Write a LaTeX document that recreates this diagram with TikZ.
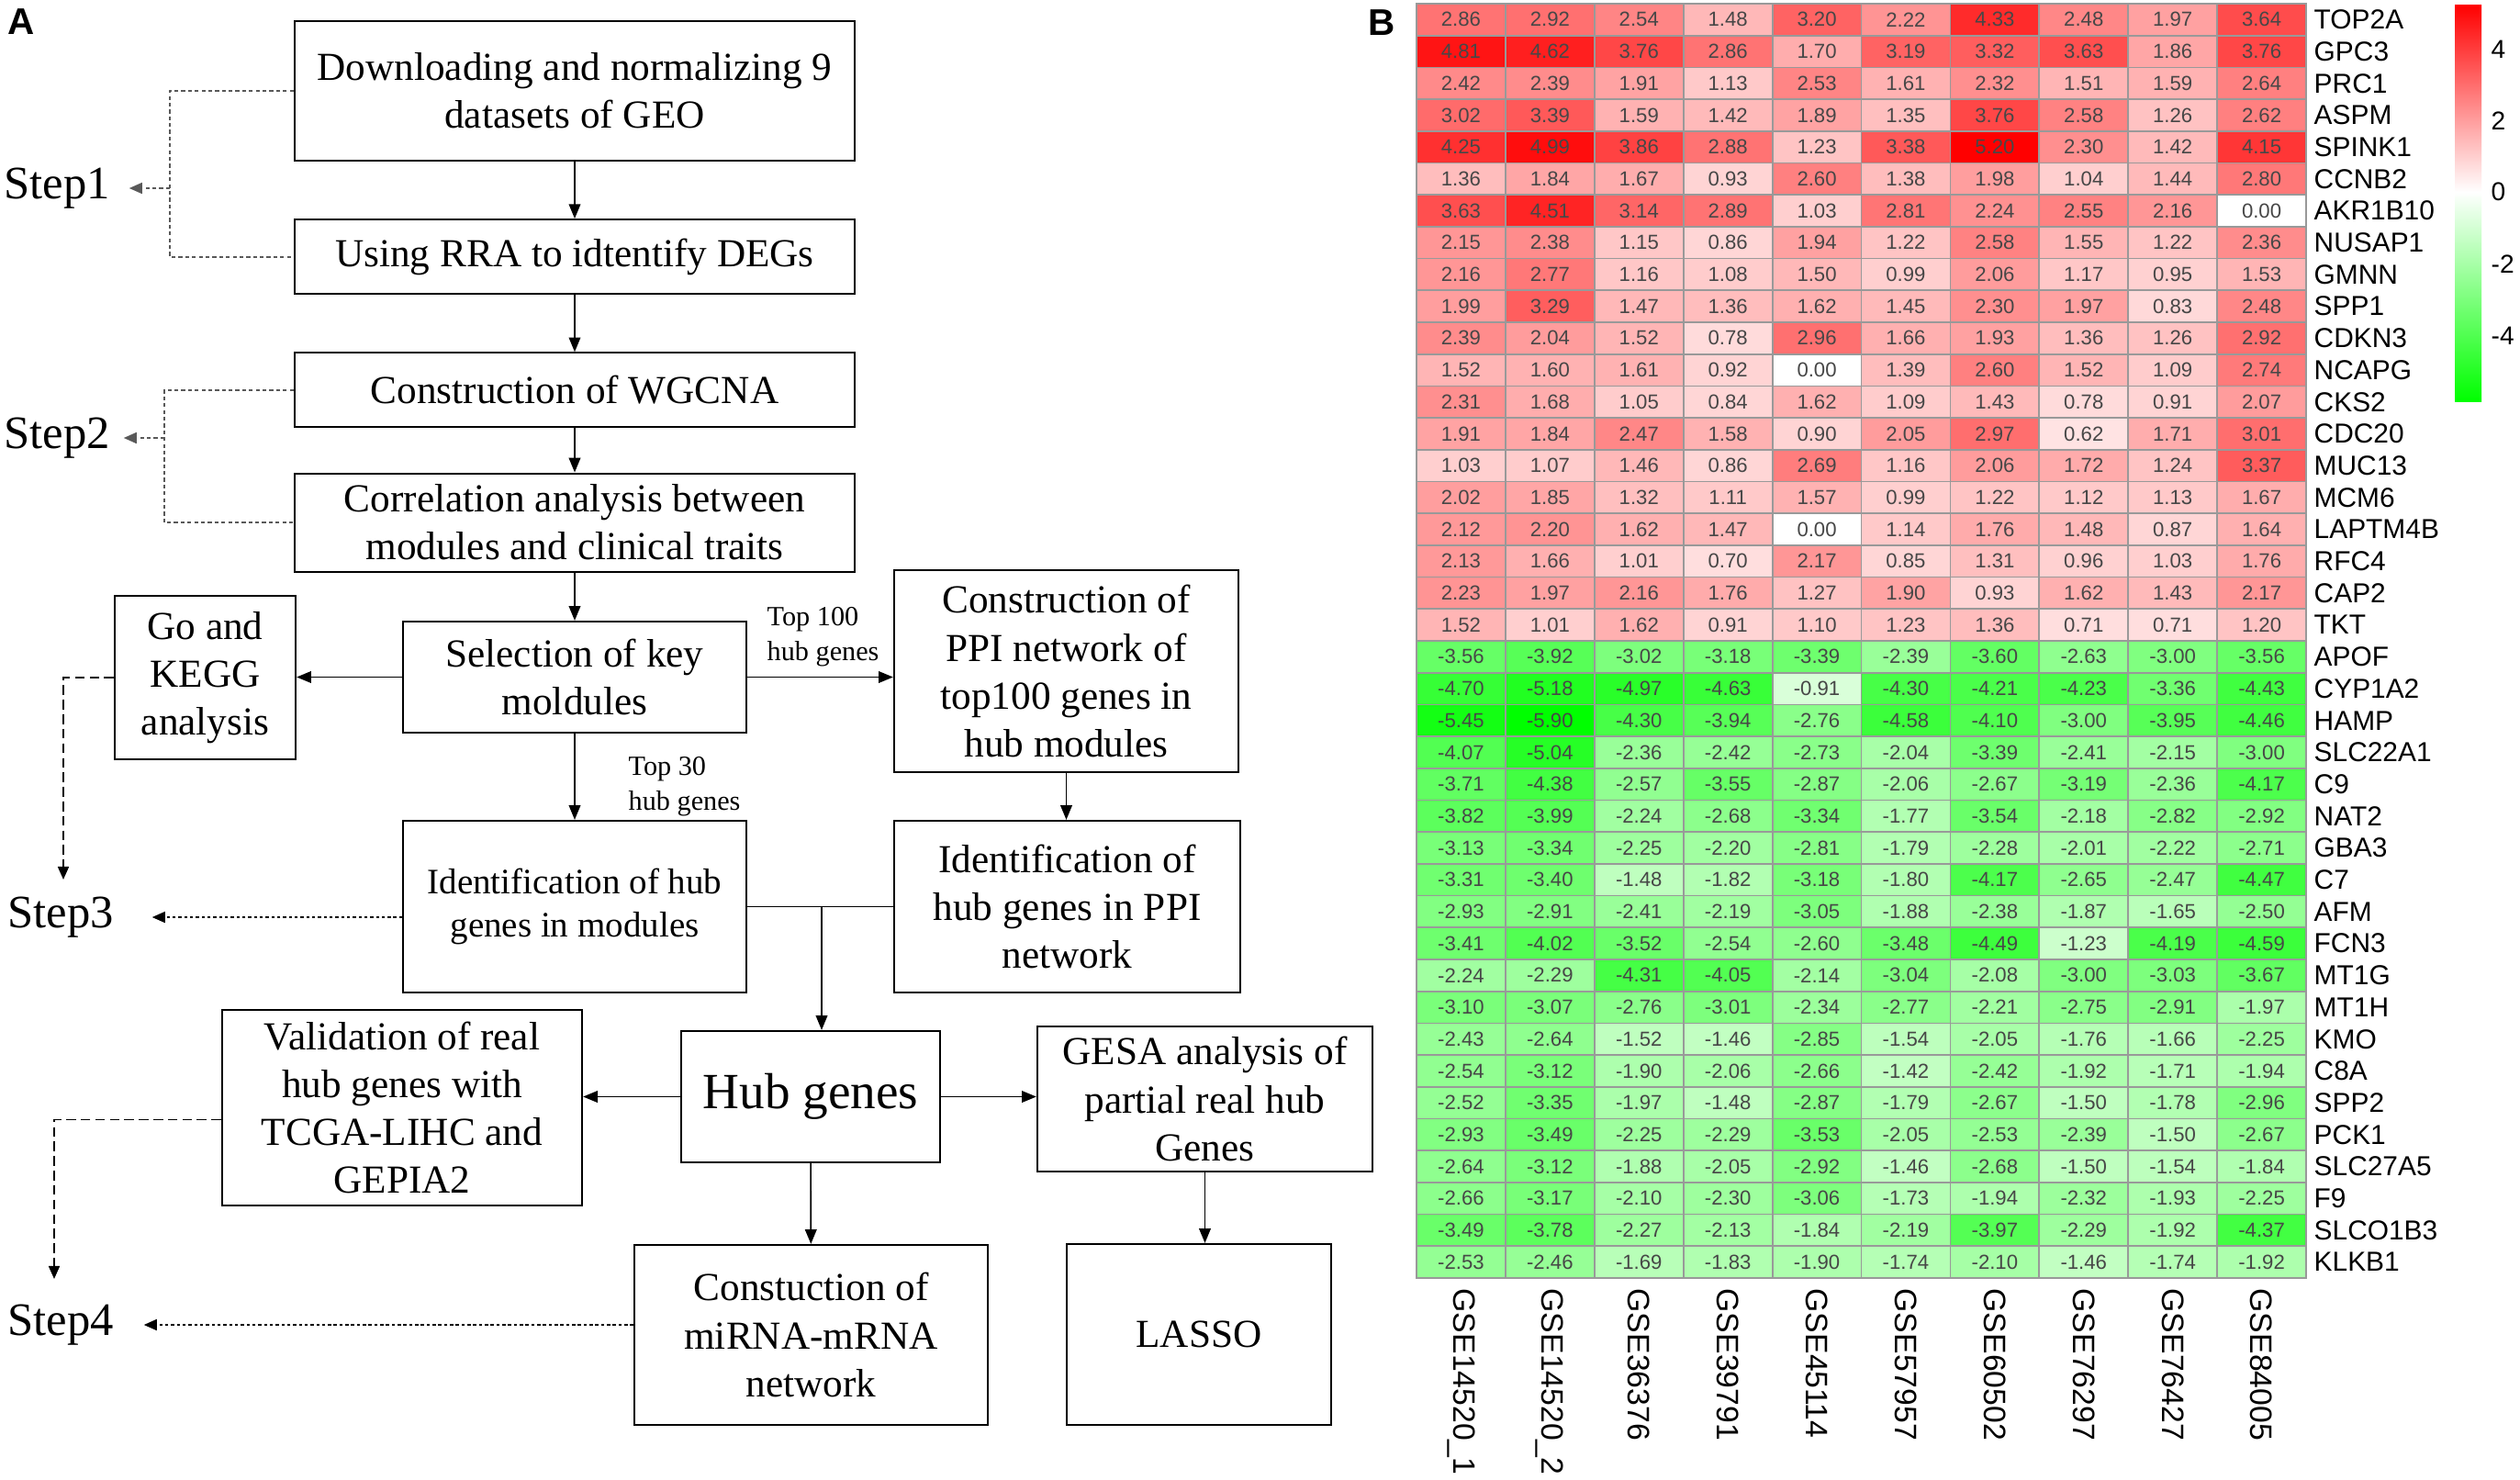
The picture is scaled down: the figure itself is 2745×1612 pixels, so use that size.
\documentclass[tikz,border=0pt]{standalone}
\usepackage{fontspec}
\setmainfont{Liberation Serif}
\newfontfamily\heatfont{Liberation Sans}
\usetikzlibrary{positioning,calc,arrows.meta}
\tikzset{main node/.style={rectangle,draw,line width=0.6pt,align=center,inner sep=1pt,font=\fontsize{12.3}{14.8}\selectfont}}
\tikzset{step node/.style={inner sep=0pt,font=\fontsize{14.4}{17}\selectfont}}
\tikzset{label node/.style={align=left,inner sep=0pt,anchor=west,font=\fontsize{8.6}{10.8}\selectfont}}
\tikzset{panel node/.style={inner sep=0pt,font=\heatfont\bfseries\fontsize{11.5}{12}\selectfont}}
\tikzset{flow/.style={line width=0.45pt,-{Triangle[length=4.5pt,width=3.6pt]}}}
\tikzset{stepline/.style={black!65,line width=0.5pt,dash pattern=on 1.2pt off 0.9pt}}
\tikzset{dotline/.style={line width=0.5pt,dash pattern=on 1pt off 0.8pt}}
\tikzset{guideline/.style={line width=0.5pt,dash pattern=on 3pt off 1.5pt}}
\tikzset{cell/.style={draw=black!40,line width=0.5pt}}
\tikzset{value node/.style={inner sep=0pt,text=black!72,font=\heatfont\fontsize{6.3}{7}\selectfont}}
\tikzset{gene node/.style={inner sep=0pt,anchor=west,font=\heatfont\fontsize{8.5}{10}\selectfont}}
\tikzset{col node/.style={inner sep=0pt,anchor=west,rotate=-90,font=\heatfont\fontsize{9.6}{11}\selectfont}}
\tikzset{bar node/.style={inner sep=0pt,anchor=west,font=\heatfont\fontsize{8}{9}\selectfont}}

\begin{document}
\begin{tikzpicture}[x=0.01cm,y=-0.01cm]
    \useasboundingbox (0,0) rectangle (2745,1612);

    \node[panel node] (A) at (23,24) {A};
    \node[panel node] (B) at (1505,25) {B};

    \node[main node, minimum width=6.10cm, minimum height=1.52cm] (1) at (626,99) {Downloading and normalizing 9\\datasets of GEO};
    \node[main node, minimum width=6.10cm, minimum height=0.81cm] (2) [below = 0.62cm of 1] {Using RRA to idtentify DEGs};
    \node[main node, minimum width=6.10cm, minimum height=0.81cm] (3) [below = 0.62cm of 2] {Construction of WGCNA};
    \node[main node, minimum width=6.10cm, minimum height=1.07cm] (4) [below = 0.48cm of 3] {Correlation analysis between\\modules and clinical traits};
    \node[main node, minimum width=3.73cm, minimum height=1.21cm] (5) at (626,737.5) {Selection of key\\moldules};
    \node[main node, minimum width=1.97cm, minimum height=1.78cm] (6) at (223.5,738) {Go and\\KEGG\\analysis};
    \node[main node, minimum width=3.75cm, minimum height=2.20cm] (7) at (1161.5,731) {Construction of\\PPI network of\\top100 genes in\\hub modules};
    \node[main node, minimum width=3.73cm, minimum height=1.87cm, font=\fontsize{11.1}{13.4}\selectfont] (8) at (626,987.5) {Identification of hub\\genes in modules};
    \node[main node, minimum width=3.77cm, minimum height=1.87cm] (9) at (1162.5,987.5) {Identification of\\hub genes in PPI\\network};
    \node[main node, minimum width=2.82cm, minimum height=1.43cm, font=\fontsize{15.7}{18}\selectfont] (10) at (883,1194.5) {Hub genes};
    \node[main node, minimum width=3.92cm, minimum height=2.13cm] (11) at (438,1206.5) {Validation of real\\hub genes with\\TCGA-LIHC and\\GEPIA2};
    \node[main node, minimum width=3.65cm, minimum height=1.58cm] (12) at (1312.5,1197) {GESA analysis of\\partial real hub\\Genes};
    \node[main node, minimum width=3.85cm, minimum height=1.96cm] (13) at (883.5,1454) {Constuction of\\miRNA-mRNA\\network};
    \node[main node, minimum width=2.88cm, minimum height=1.97cm] (14) at (1306,1453.5) {LASSO};

    \node[label node] (t100) at (835,694) {Top 100\\hub genes};
    \node[label node] (t30) at (684,857) {Top 30\\hub genes};

    \node[step node, anchor=west] (s1) at (4,205) {Step1};
    \node[step node, anchor=west] (s2) at (4,477) {Step2};
    \node[step node, anchor=west] (s3) at (8,999) {Step3};
    \node[step node, anchor=west] (s4) at (8,1443) {Step4};

    \draw[flow] (1) -- (2);
    \draw[flow] (2) -- (3);
    \draw[flow] (3) -- (4);
    \draw[flow] (4) -- (5);
    \draw[flow] (5) -- (8);
    \draw[flow] (5.west) -- (5.west -| 6.east);
    \draw[flow] (5.east) -- (5.east -| 7.west);
    \draw[flow] (7.south) -- (7.south |- 9.north);
    \draw[line width=0.45pt] (8.east) -- (9.west);
    \coordinate (j) at (895,987.5);
    \draw[flow] (j) -- (j |- 10.north);
    \draw[flow] (10.west) -- (10.west -| 11.east);
    \draw[flow] (10.east) -- (10.east -| 12.west);
    \draw[flow] (10) -- (13);
    \draw[flow] (12.south) -- (12.south |- 14.north);

    \coordinate (b1) at (185,205);
    \coordinate (b2) at (179,477);
    \draw[stepline] (1.west) -| (b1) |- (2.west);
    \draw[stepline,-{Triangle[length=4pt,width=3.4pt]}] (b1) -- ($(s1.east)+(20,0)$);
    \draw[stepline] (3.west) -| (b2) |- (4.west);
    \draw[stepline,-{Triangle[length=4pt,width=3.4pt]}] (b2) -- ($(s2.east)+(14,0)$);
    \draw[dotline,-{Triangle[length=4pt,width=3.4pt]}] (8.west |- s3.east) -- ($(s3.east)+(41,0)$);
    \draw[dotline,-{Triangle[length=4pt,width=3.4pt]}] (13.west |- s4.east) -- ($(s4.east)+(32,0)$);
    \coordinate (g3) at (69,958);
    \coordinate (v4) at (59,1393);
    \draw[guideline,-{Triangle[length=4pt,width=3.4pt]}] (6.west) -| (g3);
    \draw[guideline,-{Triangle[length=4pt,width=3.4pt]}] ($(11.west)+(0,13)$) -| (v4);

    \foreach \gene/\va/\vb/\vc/\vd/\ve/\vf/\vg/\vh/\vi/\vj [count=\r] in {
        TOP2A/2.86/2.92/2.54/1.48/3.20/2.22/4.33/2.48/1.97/3.64,
        GPC3/4.81/4.62/3.76/2.86/1.70/3.19/3.32/3.63/1.86/3.76,
        PRC1/2.42/2.39/1.91/1.13/2.53/1.61/2.32/1.51/1.59/2.64,
        ASPM/3.02/3.39/1.59/1.42/1.89/1.35/3.76/2.58/1.26/2.62,
        SPINK1/4.25/4.99/3.86/2.88/1.23/3.38/5.20/2.30/1.42/4.15,
        CCNB2/1.36/1.84/1.67/0.93/2.60/1.38/1.98/1.04/1.44/2.80,
        AKR1B10/3.63/4.51/3.14/2.89/1.03/2.81/2.24/2.55/2.16/0.00,
        NUSAP1/2.15/2.38/1.15/0.86/1.94/1.22/2.58/1.55/1.22/2.36,
        GMNN/2.16/2.77/1.16/1.08/1.50/0.99/2.06/1.17/0.95/1.53,
        SPP1/1.99/3.29/1.47/1.36/1.62/1.45/2.30/1.97/0.83/2.48,
        CDKN3/2.39/2.04/1.52/0.78/2.96/1.66/1.93/1.36/1.26/2.92,
        NCAPG/1.52/1.60/1.61/0.92/0.00/1.39/2.60/1.52/1.09/2.74,
        CKS2/2.31/1.68/1.05/0.84/1.62/1.09/1.43/0.78/0.91/2.07,
        CDC20/1.91/1.84/2.47/1.58/0.90/2.05/2.97/0.62/1.71/3.01,
        MUC13/1.03/1.07/1.46/0.86/2.69/1.16/2.06/1.72/1.24/3.37,
        MCM6/2.02/1.85/1.32/1.11/1.57/0.99/1.22/1.12/1.13/1.67,
        LAPTM4B/2.12/2.20/1.62/1.47/0.00/1.14/1.76/1.48/0.87/1.64,
        RFC4/2.13/1.66/1.01/0.70/2.17/0.85/1.31/0.96/1.03/1.76,
        CAP2/2.23/1.97/2.16/1.76/1.27/1.90/0.93/1.62/1.43/2.17,
        TKT/1.52/1.01/1.62/0.91/1.10/1.23/1.36/0.71/0.71/1.20,
        APOF/-3.56/-3.92/-3.02/-3.18/-3.39/-2.39/-3.60/-2.63/-3.00/-3.56,
        CYP1A2/-4.70/-5.18/-4.97/-4.63/-0.91/-4.30/-4.21/-4.23/-3.36/-4.43,
        HAMP/-5.45/-5.90/-4.30/-3.94/-2.76/-4.58/-4.10/-3.00/-3.95/-4.46,
        SLC22A1/-4.07/-5.04/-2.36/-2.42/-2.73/-2.04/-3.39/-2.41/-2.15/-3.00,
        C9/-3.71/-4.38/-2.57/-3.55/-2.87/-2.06/-2.67/-3.19/-2.36/-4.17,
        NAT2/-3.82/-3.99/-2.24/-2.68/-3.34/-1.77/-3.54/-2.18/-2.82/-2.92,
        GBA3/-3.13/-3.34/-2.25/-2.20/-2.81/-1.79/-2.28/-2.01/-2.22/-2.71,
        C7/-3.31/-3.40/-1.48/-1.82/-3.18/-1.80/-4.17/-2.65/-2.47/-4.47,
        AFM/-2.93/-2.91/-2.41/-2.19/-3.05/-1.88/-2.38/-1.87/-1.65/-2.50,
        FCN3/-3.41/-4.02/-3.52/-2.54/-2.60/-3.48/-4.49/-1.23/-4.19/-4.59,
        MT1G/-2.24/-2.29/-4.31/-4.05/-2.14/-3.04/-2.08/-3.00/-3.03/-3.67,
        MT1H/-3.10/-3.07/-2.76/-3.01/-2.34/-2.77/-2.21/-2.75/-2.91/-1.97,
        KMO/-2.43/-2.64/-1.52/-1.46/-2.85/-1.54/-2.05/-1.76/-1.66/-2.25,
        C8A/-2.54/-3.12/-1.90/-2.06/-2.66/-1.42/-2.42/-1.92/-1.71/-1.94,
        SPP2/-2.52/-3.35/-1.97/-1.48/-2.87/-1.79/-2.67/-1.50/-1.78/-2.96,
        PCK1/-2.93/-3.49/-2.25/-2.29/-3.53/-2.05/-2.53/-2.39/-1.50/-2.67,
        SLC27A5/-2.64/-3.12/-1.88/-2.05/-2.92/-1.46/-2.68/-1.50/-1.54/-1.84,
        F9/-2.66/-3.17/-2.10/-2.30/-3.06/-1.73/-1.94/-2.32/-1.93/-2.25,
        SLCO1B3/-3.49/-3.78/-2.27/-2.13/-1.84/-2.19/-3.97/-2.29/-1.92/-4.37,
        KLKB1/-2.53/-2.46/-1.69/-1.83/-1.90/-1.74/-2.10/-1.46/-1.74/-1.92}{
        \node[gene node] (g\r) at (2520,{4+(\r-0.5)*34.7}) {\gene};
        \foreach \v [count=\c] in {\va,\vb,\vc,\vd,\ve,\vf,\vg,\vh,\vi,\vj}{
            \ifdim \v pt<0pt
                \def\hue{green}\pgfmathtruncatemacro\pct{-100*(\v)/5.9}
            \else
                \def\hue{red}\pgfmathtruncatemacro\pct{100*(\v)/5.2}
            \fi
            \filldraw[cell, fill=\hue!\pct!white] ({1543+(\c-1)*96.9},{4+(\r-1)*34.7}) rectangle ++(96.9,34.7);
            \node[value node] (v\r-\c) at ({1543+(\c-0.5)*96.9},{4+(\r-0.5)*34.7}) {\v};
        }
    }

    \foreach \gse [count=\c] in {GSE14520\_1,GSE14520\_2,GSE36376,GSE39791,GSE45114,GSE57957,GSE60502,GSE76297,GSE76427,GSE84005}
        \node[col node] (c\c) at ({1543+(\c-0.5)*96.9},1403) {\gse};

    \shade[top color=red, bottom color=white] (2674,5) rectangle (2703,209);
    \shade[top color=white, bottom color=green] (2674,209) rectangle (2703,437);
    \foreach \t/\yy in {4/54,2/132,0/209,-2/288,-4/366}
        \node[bar node] (k\t) at (2713,\yy) {\t};
\end{tikzpicture}
\end{document}
